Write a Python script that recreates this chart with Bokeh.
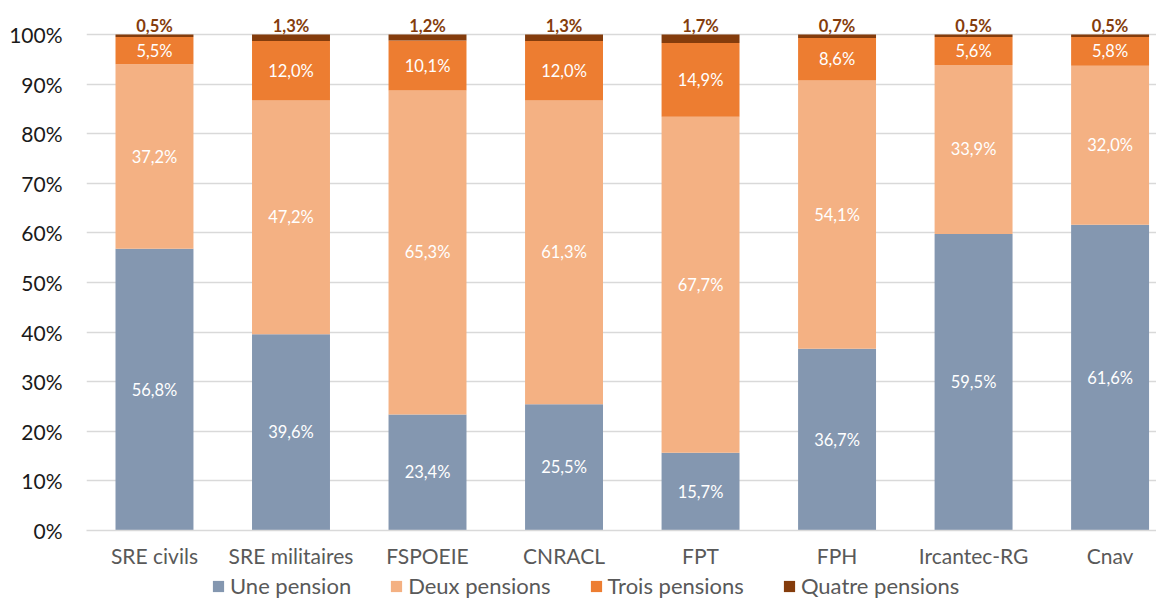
import numpy as np
from bokeh.plotting import figure
from bokeh.layouts import column
from bokeh.models import ColumnDataSource, Range1d, FixedTicker, Legend, LegendItem
from bokeh.core.properties import value
from bokeh.embed import file_html
from bokeh.resources import INLINE

categories = ["SRE civils", "SRE militaires", "FSPOEIE", "CNRACL", "FPT", "FPH", "Ircantec-RG", "Cnav"]
une = [56.8, 39.6, 23.4, 25.5, 15.7, 36.7, 59.5, 61.6]
deux = [37.2, 47.2, 65.3, 61.3, 67.7, 54.1, 33.9, 32.0]
trois = [5.5, 12.0, 10.1, 12.0, 14.9, 8.6, 5.6, 5.8]
quatre = [0.5, 1.3, 1.2, 1.3, 1.7, 0.7, 0.5, 0.5]
series_names = ["Une pension", "Deux pensions", "Trois pensions", "Quatre pensions"]
colors = ["#8497B0", "#F4B183", "#ED7D31", "#843C0C"]
y_ticks = [0, 10, 20, 30, 40, 50, 60, 70, 80, 90, 100]

FONT = "Lato"

raw = np.array([une, deux, trois, quatre], dtype=float)
norm = raw / raw.sum(axis=0) * 100.0
keys = ["une", "deux", "trois", "quatre"]
x = list(range(len(categories)))

data = {"x": x}
for k, row in zip(keys, norm):
    data[k] = list(row)
source = ColumnDataSource(data)

p = figure(width=1156, height=570, output_backend="svg", toolbar_location=None,
           x_range=Range1d(-0.498, 7.34), y_range=Range1d(0, 103.63),
           min_border_left=86, min_border_right=0, min_border_top=16, min_border_bottom=40)
p.outline_line_color = None
p.background_fill_color = "white"

renderers = p.vbar_stack(keys, x="x", width=0.571, source=source, color=colors, line_color=None)

# labels
bottoms = np.vstack([np.zeros(len(x)), np.cumsum(norm, axis=0)[:-1]])
fmt = lambda v: f"{v:.1f}".replace(".", ",") + "%"
for i in range(3):
    centers = bottoms[i] + norm[i] / 2
    src = ColumnDataSource(dict(x=x, y=list(centers), t=[fmt(v) for v in raw[i]]))
    p.text(x="x", y="y", text="t", source=src, text_align="center", text_baseline="middle",
           text_color="white", text_font=value(FONT), text_font_size="16.5px")
tops = np.cumsum(norm, axis=0)[-1]
src = ColumnDataSource(dict(x=x, y=list(tops), t=[fmt(v) for v in raw[3]]))
p.text(x="x", y="y", text="t", source=src, text_align="center", text_baseline="bottom",
       text_color="#843C0C", text_font=value(FONT), text_font_size="16.5px",
       text_font_style="bold", y_offset=1)

# axes
p.xaxis.ticker = FixedTicker(ticks=x)
p.xaxis.major_label_overrides = {i: c for i, c in enumerate(categories)}
p.xaxis.major_label_text_font = FONT
p.xaxis.major_label_text_font_size = "21px"
p.xaxis.major_label_text_color = "#595959"
p.xaxis.major_tick_line_color = None
p.xaxis.major_tick_out = 0
p.xaxis.major_tick_in = 0
p.xaxis.minor_tick_line_color = None
p.xaxis.minor_tick_out = 0
p.xaxis.axis_line_color = "#D9D9D9"
p.xaxis.axis_line_width = 1.5
p.xaxis.major_label_standoff = 12

p.yaxis.ticker = FixedTicker(ticks=y_ticks)
p.yaxis.major_label_overrides = {t: f"{t}%" for t in y_ticks}
p.yaxis.major_label_text_font = FONT
p.yaxis.major_label_text_font_size = "21px"
p.yaxis.major_label_text_color = "#1a1a1a"
p.yaxis.major_tick_line_color = None
p.yaxis.major_tick_out = 0
p.yaxis.major_tick_in = 0
p.yaxis.minor_tick_line_color = None
p.yaxis.minor_tick_out = 0
p.yaxis.axis_line_color = None
p.yaxis.major_label_standoff = 24

p.xgrid.grid_line_color = None
p.ygrid.ticker = FixedTicker(ticks=y_ticks)
p.ygrid.grid_line_color = "#D9D9D9"
p.ygrid.grid_line_width = 1.5

# legend strip (separate small figure, swatch glyphs kept outside its visible range)
lg = figure(width=1156, height=29, output_backend="svg", toolbar_location=None,
            x_axis_type=None, y_axis_type=None, x_range=Range1d(0, 1), y_range=Range1d(0, 1),
            min_border_left=0, min_border_right=0, min_border_top=0, min_border_bottom=0)
lg.outline_line_color = None
lg.grid.grid_line_color = None
offscreen = ColumnDataSource(dict(x=[5.0], top=[1.0]))
swatches = [lg.vbar(x="x", top="top", width=0.5, source=offscreen, color=c, line_color=None) for c in colors]

legend = Legend(items=[LegendItem(label=n, renderers=[r], index=0) for n, r in zip(series_names, swatches)],
                orientation="horizontal", location=(125, 0))
legend.label_text_font = FONT
legend.label_text_font_size = "22px"
legend.label_text_color = "#595959"
legend.glyph_width = 14
legend.glyph_height = 14
legend.label_standoff = 5
legend.spacing = 38
legend.padding = 0
legend.margin = 0
legend.border_line_color = None
legend.background_fill_alpha = 0
lg.add_layout(legend)

layout = column(p, lg, spacing=0)
open("out.html", "w").write(file_html(layout, INLINE))
